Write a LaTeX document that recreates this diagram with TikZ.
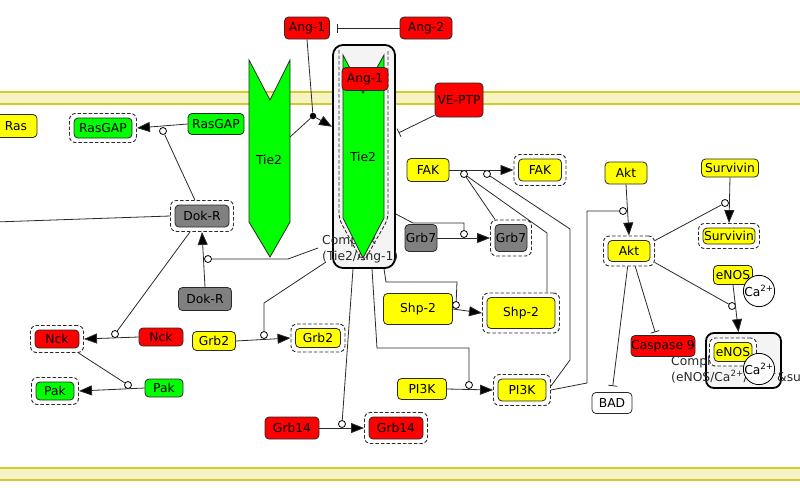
\documentclass[tikz,border=0pt]{standalone}
\usepackage{fontspec}
\setmainfont{DejaVu Sans}
\usetikzlibrary{arrows.meta,calc}
\definecolor{molred}{HTML}{FF0000}
\definecolor{molgreen}{HTML}{00FF00}
\definecolor{molyellow}{HTML}{FFFF00}
\definecolor{molgray}{HTML}{808080}
\definecolor{cxfill}{HTML}{F4F4F4}
\definecolor{bandline}{HTML}{D2CC2A}
\definecolor{bandfill}{HTML}{F5F2C4}
\definecolor{edge}{HTML}{2A2A2A}
\newcommand\mol[6]{\node[mol,fill=#5,minimum width=#3pt,minimum height=#4pt] (#1) at (#2) {#6};}
\newcommand\smol[6]{\node[dframe,fill=white,minimum width=#3pt+9pt,minimum height=#4pt+9pt] (#1f) at (#2) {};\mol{#1}{#2}{#3}{#4}{#5}{#6}}
\begin{document}
\begin{tikzpicture}[x=1pt,y=-1pt,
 every node/.style={font=\fontsize{12.3}{14}\selectfont},
 mol/.style={draw=edge, line width=0.8pt, rounded corners=4pt, inner sep=0pt, text=black},
 dframe/.style={draw=edge, line width=0.9pt, dash pattern=on 3.5pt off 2pt, rounded corners=6pt, inner sep=0pt},
 ln/.style={draw=edge, line width=0.8pt},
 act/.style={ln, -{Triangle[length=13pt,width=10pt,fill=black]}},
 inh/.style={ln, -{Bar[width=9pt]}},
 modc/.style={circle, draw=black, line width=0.8pt, fill=white, inner sep=0pt, minimum size=7pt},
 jdot/.style={circle, fill=black, inner sep=0pt, minimum size=6.5pt},
 cxbox/.style={draw=black, line width=1.8pt, fill=cxfill, rounded corners=10pt, inner sep=0pt},
 cxlbl/.style={anchor=west, inner sep=0pt, text=edge},
 ion/.style={circle, draw=black, line width=0.8pt, fill=white, inner sep=0pt},
 tieshape/.style={draw=edge, line width=0.8pt, fill=molgreen}]
\fill[white] (0,0) rectangle (800,491);
\useasboundingbox (0,0) rectangle (800,491);
% membranes
\fill[bandfill] (0,92) rectangle (800,104);
\draw[bandline, line width=2.2pt] (0,92) -- (800,92);
\draw[bandline, line width=1.5pt] (0,104) -- (800,104);
\fill[bandfill] (0,468) rectangle (800,480);
\draw[bandline, line width=2.2pt] (0,468) -- (800,468);
\draw[bandline, line width=1.5pt] (0,480) -- (800,480);
% complex Tie2/Ang-1
\node[cxbox, minimum width=62pt, minimum height=223pt] (cx1) at (364,156.5) {};
\node[cxlbl] (cx1a) at (322,241) {Complex};
\node[cxlbl] (cx1b) at (322,257) {(Tie2/Ang-1)};
\draw[dframe] (339,50) -- (339,219) -- (363,263) -- (388,219) -- (388,50);
\draw[tieshape] (343,55) -- (363,93) -- (384,55) -- (384,218) -- (363,258) -- (343,218) -- cycle;
\node (tie2c) at (363,157) {Tie2};
\mol{ang1c}{365,79}{46}{23}{molred}{Ang-1}
% left Tie2
\draw[tieshape] (249,60) -- (270,100) -- (290,60) -- (290,222) -- (270,257) -- (249,222) -- cycle;
\node (tie2l) at (269,160) {Tie2};
\coordinate (tie2L) at (290,137);
% complex eNOS
\node[cxbox, rounded corners=8pt, minimum width=75pt, minimum height=55pt] (cx2) at (743.5,360.5) {};
\node[cxlbl] (cx2a) at (671,362) {Complex};
\node[cxlbl] (cx2b) at (671,377) {(eNOS/Ca\textsuperscript{2+}/Ca\textsuperscript{2+}\&sup};
\smol{enT}{733,352}{38}{19}{molyellow}{eNOS}
\node[ion, minimum size=22pt] (ca2) at (759,369) {Ca\textsuperscript{2+}};
% molecules
\mol{ras}{16,126}{42}{23}{molyellow}{Ras}
\smol{rgT}{103,128}{58}{20}{molgreen}{RasGAP}
\mol{rgS}{216,124}{56}{21}{molgreen}{RasGAP}
\mol{ang1}{307,28}{45}{22}{molred}{Ang-1}
\mol{ang2}{426,28}{52}{22}{molred}{Ang-2}
\mol{vep}{459,100}{48}{34}{molred}{VE-PTP}
\mol{fakS}{428,170}{42}{23}{molyellow}{FAK}
\smol{fakT}{540,170}{43}{22}{molyellow}{FAK}
\mol{grb7S}{421,238}{32}{27}{molgray}{Grb7}
\smol{grb7T}{511,238}{32}{27}{molgray}{Grb7}
\mol{shp2S}{418,309}{69}{31}{molyellow}{Shp-2}
\smol{shp2T}{521,313}{68}{31}{molyellow}{Shp-2}
\smol{dkT}{202,216}{54}{22}{molgray}{Dok-R}
\mol{dkS}{205,299}{53}{23}{molgray}{Dok-R}
\mol{grb2S}{214,341}{43}{19}{molyellow}{Grb2}
\smol{grb2T}{318,338}{45}{19}{molyellow}{Grb2}
\smol{nckT}{57,339}{44}{18}{molred}{Nck}
\mol{nckS}{161,337}{44}{18}{molred}{Nck}
\smol{pakT}{55,391}{38}{18}{molgreen}{Pak}
\mol{pakS}{164,388}{38}{18}{molgreen}{Pak}
\mol{pi3kS}{422,389}{49}{21}{molyellow}{PI3K}
\smol{pi3kT}{522,390}{48}{22}{molyellow}{PI3K}
\mol{grb14S}{292,428}{54}{22}{molred}{Grb14}
\smol{grb14T}{396,428}{54}{22}{molred}{Grb14}
\mol{aktS}{626,173}{42}{22}{molyellow}{Akt}
\smol{aktT}{629,251}{42}{21}{molyellow}{Akt}
\mol{svS}{730,168}{57}{18}{molyellow}{Survivin}
\smol{svT}{729,236}{52}{16}{molyellow}{Survivin}
\mol{enS}{733,275}{39}{19}{molyellow}{eNOS}
\mol{casp}{663,346}{64}{21}{molred}{Caspase 9}
\mol{bad}{612,403}{40}{21}{white}{BAD}
\node[ion, minimum size=23pt] (ca1) at (759,291) {Ca\textsuperscript{2+}};
% modifier circles and junction
\node[jdot] (j1) at (313,116) {};
\node[modc] (cRG) at (163,131) {};
\node[modc] (cF1) at (464,174) {};
\node[modc] (cF2) at (487,174) {};
\node[modc] (cG7) at (464,234) {};
\node[modc] (cS2) at (456,305) {};
\node[modc] (cG2) at (264,335) {};
\node[modc] (cDK) at (208,259) {};
\node[modc] (cNK) at (115,334) {};
\node[modc] (cPK) at (128,385) {};
\node[modc] (cPI) at (469,385) {};
\node[modc] (cG14) at (342,424) {};
\node[modc] (cAK) at (623,211) {};
\node[modc] (cSV) at (725,203) {};
\node[modc] (cEN) at (732,306) {};
\coordinate (leftend) at (-5,222);
% connectors
\draw[act] (rgS.west) -- (rgTf.east);
\draw[ln] (dkTf.114) -- (cRG);
\draw[inh, shorten >=7pt] (ang2.west) -- (ang1.east);
\draw[ln] (ang1.south) -- (j1);
\draw[ln] (j1) -- (tie2L);
\draw[act] (j1) -- (cx1.137);
\draw[inh, shorten >=3pt] (vep.212) -- (cx1.35);
\draw[act] (fakS.east) -- (fakTf.west);
\draw[ln] (cF1) -- ($(grb7Tf.north west)+(5pt,0)$);
\draw[ln] (cF1) -- (547,233) -- ($(shp2Tf.north)+(26pt,0)$);
\draw[ln] (cF2) -- (570,229) -- (570,360) -- ($(pi3kTf.east)+(0,4pt)$);
\draw[act] (grb7S.east) -- (grb7Tf.west);
\draw[ln] (cx1.-61) -- (413,223) -- (464,223) -- (cG7);
\draw[act] (shp2S.east) -- (shp2Tf.west);
\draw[ln] ($(cx1.south)+(20pt,0)$) -- (386,282) -- (457,282) -- (cS2);
\draw[act] (grb2S.east) -- (grb2Tf.west);
\draw[ln] (cG2) -- (264,303) -- (326,262);
\draw[act] (dkS.north) -- (dkTf.south);
\draw[ln] (cDK) -- (288,259) -- (318,248);
\draw[ln] (dkTf.west) -- (leftend);
\draw[ln] (dkTf.233) -- (cNK);
\draw[act] (nckS.west) -- (nckTf.east);
\draw[ln] (nckTf.-33) -- (cPK);
\draw[act] (pakS.west) -- (pakTf.east);
\draw[act] (pi3kS.east) -- (pi3kTf.west);
\draw[ln] ($(cx1.south)+(8pt,0)$) -- (377,348) -- (469,348) -- (cPI);
\draw[ln] (pi3kTf.east) -- (587,383) -- (587,211) -- (cAK);
\draw[act] (grb14S.east) -- (grb14Tf.west);
\draw[ln] ($(cx1.south)+(-11pt,0)$) -- (cG14);
\draw[act] (aktS.south) -- (aktTf.north);
\draw[ln] (aktTf.22) -- (cSV);
\draw[ln] (aktTf.-24) -- (cEN);
\draw[inh, shorten >=3pt] (aktTf.-68) -- ($(casp.north)+(-7pt,0)$);
\draw[inh, shorten >=6pt] (aktTf.-95) -- (bad.north);
\draw[act] (svS.south) -- (svTf.north);
\draw[act] (enS.south) -- ($(cx2.north)+(-5pt,0)$);
\end{tikzpicture}
\end{document}
